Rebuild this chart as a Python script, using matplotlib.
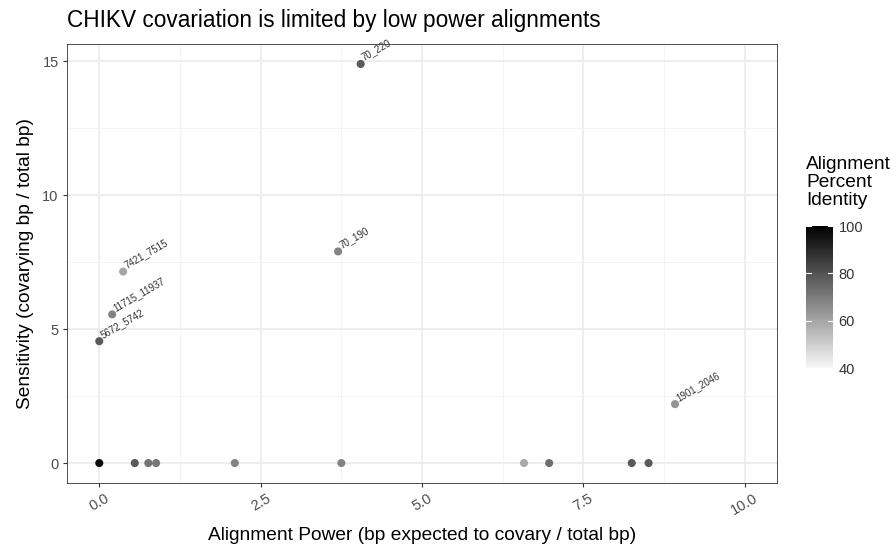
import matplotlib
matplotlib.use("Agg")
import matplotlib.pyplot as plt
from matplotlib.colors import LinearSegmentedColormap, Normalize
from matplotlib.ticker import MultipleLocator

plt.rcParams["font.family"] = ["Liberation Sans", "DejaVu Sans"]

# alignment power, sensitivity, percent identity, label
power = [4.05, 3.70, 0.37, 0.20, 0.00, 8.92,
         0.00, 0.55, 0.76, 0.88, 2.10, 3.75, 6.58, 6.97, 8.25, 8.51]
sensitivity = [14.9, 7.9, 7.15, 5.55, 4.55, 2.2,
               0, 0, 0, 0, 0, 0, 0, 0, 0, 0]
identity = [78, 68, 60, 68, 78, 64,
            97, 78, 72, 71, 68, 68, 59, 73, 78, 78]
labels = ["70_220", "70_190", "7421_7515", "11715_11937", "5672_5742", "1901_2046",
          "", "", "", "", "", "", "", "", "", ""]

cmap = LinearSegmentedColormap.from_list("grey", ["#f7f7f7", "#000000"])
norm = Normalize(vmin=40, vmax=100)

fig = plt.figure(figsize=(8.96, 5.46), dpi=100)
ax = fig.add_axes([67 / 896, 63 / 546, 710 / 896, 439 / 546])

ax.set_facecolor("white")
ax.scatter(power, sensitivity, c=identity, cmap=cmap, norm=norm, s=34,
           linewidths=0, zorder=3)
for x, y, lab in zip(power, sensitivity, labels):
    if lab:
        ax.annotate(lab, (x, y), xytext=(3, 1), textcoords="offset points",
                    rotation=30, fontsize=7, color="#333333",
                    ha="left", va="bottom", rotation_mode="anchor", zorder=4)

ax.set_xlim(-0.5, 10.5)
ax.set_ylim(-0.745, 15.645)
ax.xaxis.set_major_locator(MultipleLocator(2.5))
ax.xaxis.set_minor_locator(MultipleLocator(1.25))
ax.yaxis.set_major_locator(MultipleLocator(5))
ax.yaxis.set_minor_locator(MultipleLocator(2.5))
ax.set_xticks([0, 2.5, 5, 7.5, 10])
ax.set_xticklabels(["0.0", "2.5", "5.0", "7.5", "10.0"], rotation=30)
ax.grid(which="major", color="#ebebeb", linewidth=1.2, zorder=0)
ax.grid(which="minor", color="#f3f3f3", linewidth=0.6, zorder=0)
ax.set_axisbelow(True)
for s in ax.spines.values():
    s.set_color("#333333")
    s.set_linewidth(0.6)
ax.tick_params(which="major", length=3, color="#333333", labelsize=10.5,
               labelcolor="#4d4d4d", pad=3)
ax.tick_params(which="minor", length=0)

ax.set_xlabel("Alignment Power (bp expected to covary / total bp)", fontsize=13.8, labelpad=7)
ax.set_ylabel("Sensitivity (covarying bp / total bp)", fontsize=13.8, labelpad=6)
fig.text(67 / 896, 1 - 21 / 546, "CHIKV covariation is limited by low power alignments",
         fontsize=16.3, ha="left", va="center")

# colour bar legend
cax = fig.add_axes([806 / 896, (546 - 368) / 546, 27 / 896, 142 / 546])
sm = matplotlib.cm.ScalarMappable(norm=norm, cmap=cmap)
cb = fig.colorbar(sm, cax=cax)
cb.outline.set_visible(False)
cb.set_ticks([40, 60, 80, 100])
cax.tick_params(length=0, labelsize=10.5, labelcolor="#333333", pad=4)
for v in [60, 80, 100]:
    cax.plot([0, 0.2], [v, v], color="white", lw=0.8, transform=cax.get_yaxis_transform())
    cax.plot([0.8, 1.0], [v, v], color="white", lw=0.8, transform=cax.get_yaxis_transform())
fig.text(806 / 896, 1 - 156 / 546, "Alignment\nPercent\nIdentity", fontsize=13.8,
         ha="left", va="top", linespacing=1.08)

fig.savefig("out.png", dpi=100)
